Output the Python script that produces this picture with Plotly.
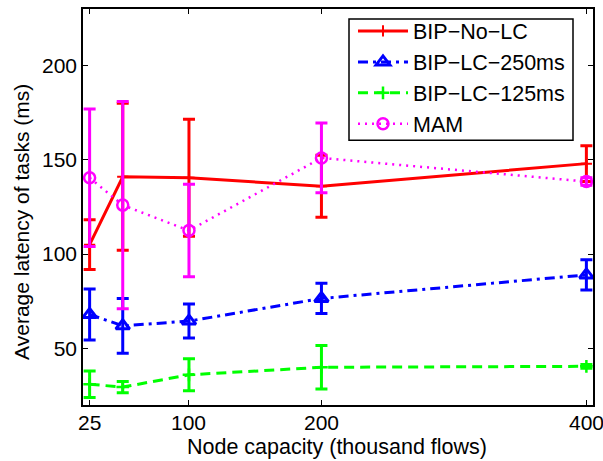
import plotly.graph_objects as go

# Data
capacity = [25, 50, 100, 200, 400]
tick_vals = [25, 100, 200, 400]
tick_text = ["25", "100", "200", "400"]

no_lc = [105, 141, 140.5, 136, 148]
no_lc_err = [13.2, 39, 31, 16.5, 9.5]

lc250 = [68, 62, 64.5, 76.5, 89]
lc250_err = [13.5, 14.5, 9, 8, 8]

lc125 = [31, 29.5, 36, 40, 40.5]
lc125_err = [7, 3, 8.5, 11.5, 1]

mam = [140.5, 126, 112.5, 151, 138.5]
mam_err = [36.5, 55, 24.5, 18.5, 2]

names = ["BIP\u2212No\u2212LC", "BIP\u2212LC\u2212250ms", "BIP\u2212LC\u2212125ms", "MAM"]

FONT = "Liberation Sans, Arial, Helvetica, sans-serif"

# plot-area geometry (px) used only to convert layout positions
L, R, T, B = 83, 593, 7, 405
W, H = R - L, B - T

def px_x(p):
    return (p - L) / W

def px_y(p):
    return (B - p) / H

fig = go.Figure()

def add(y, err, name, color, dash, lw, symbol, msize, mlw, ew):
    fig.add_trace(go.Scatter(
        x=capacity, y=y, name=name, mode="lines+markers",
        line=dict(color=color, width=lw, dash=dash),
        marker=dict(symbol=symbol, size=msize, color=color,
                    line=dict(color=color, width=mlw)),
        error_y=dict(type="data", array=err, visible=True, color=color,
                     thickness=ew, width=6),
    ))

add(no_lc, no_lc_err, names[0], "#ff0000", "solid", 3, "cross-thin", 8, 2, 3)
add(lc250, lc250_err, names[1], "#0000ff", "10px,5px,3px,5px", 3, "triangle-up-open", 12, 3, 3)
add(lc125, lc125_err, names[2], "#00ff00", "10px,6px", 3, "cross-thin", 9, 2.5, 3)
add(mam, mam_err, names[3], "#ff00ff", "2px,5px", 2.5, "circle-open", 11, 2.5, 3)

axis_common = dict(
    showline=True, linecolor="black", linewidth=1.5, mirror="ticks",
    ticks="inside", ticklen=5, tickcolor="black", tickwidth=1,
    showgrid=False, zeroline=False,
    tickfont=dict(family=FONT, size=21, color="black"),
)

fig.update_xaxes(range=[20, 405], tickvals=tick_vals, showticklabels=False,
                 **axis_common)
fig.update_yaxes(range=[20, 230], tickvals=[50, 100, 150, 200],
                 **axis_common)

# x tick labels placed at the axis' data positions
for v, t in zip(tick_vals, tick_text):
    fig.add_annotation(text=t, xref="x", yref="paper", x=v, y=px_y(423),
                       xanchor="center", yanchor="middle", showarrow=False,
                       font=dict(family=FONT, size=21, color="black"))

fig.add_annotation(text="Average latency of tasks (ms)", textangle=-90,
                   xref="paper", yref="paper", x=px_x(22), y=px_y(221),
                   xanchor="center", yanchor="middle", showarrow=False,
                   font=dict(family=FONT, size=21, color="black"))
fig.add_annotation(text="Node capacity (thousand flows)",
                   xref="paper", yref="paper", x=px_x(337), y=px_y(447),
                   xanchor="center", yanchor="middle", showarrow=False,
                   font=dict(family=FONT, size=21.5, color="black"))

# legend box
fig.add_shape(type="rect", xref="paper", yref="paper",
              x0=px_x(349), x1=px_x(573), y0=px_y(139), y1=px_y(17),
              line=dict(color="black", width=1.5), fillcolor="white",
              layer="above")

fig.update_layout(
    width=603, height=461,
    margin=dict(l=L, r=603 - R, t=T, b=461 - B),
    paper_bgcolor="white", plot_bgcolor="white",
    showlegend=True,
    legend=dict(x=px_x(353), y=px_y(8.5), xanchor="left", yanchor="top",
                bgcolor="rgba(0,0,0,0)", borderwidth=0,
                font=dict(family=FONT, size=21.5, color="black"),
                itemwidth=50, tracegroupgap=0),
)

fig.write_html("out.html")
